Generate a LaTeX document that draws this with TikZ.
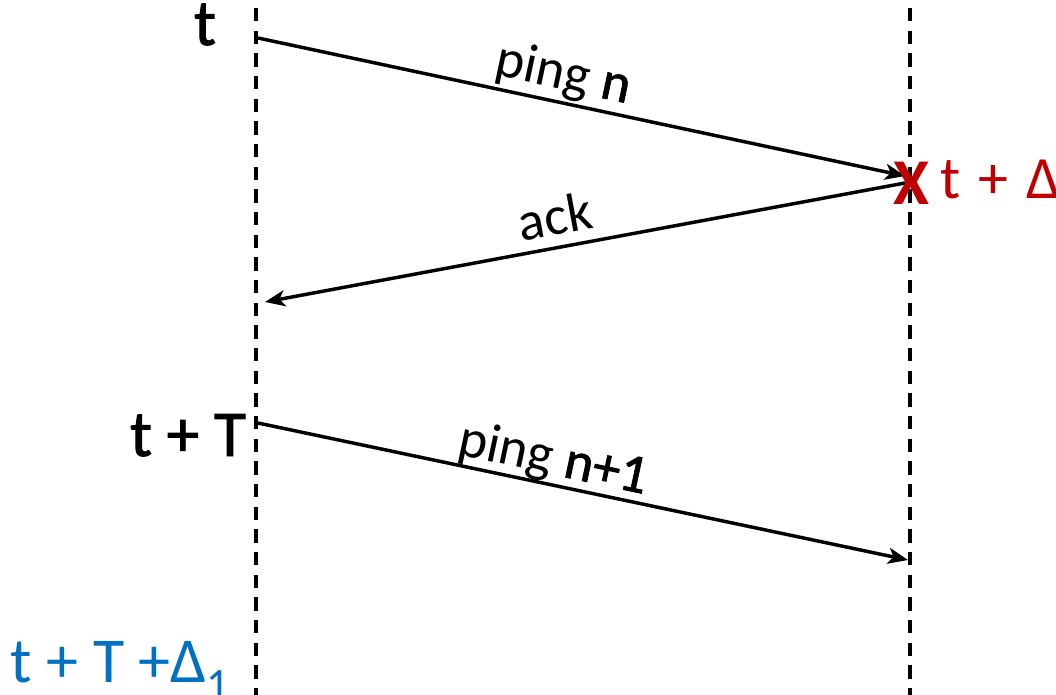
\documentclass[tikz,border=0pt]{standalone}
\usepackage{fontspec}
\setmainfont{Carlito}
\newfontfamily\semibold[FakeBold=1.5]{Carlito}
\usetikzlibrary{arrows.meta}
\definecolor{xred}{RGB}{192,0,0}
\definecolor{xblue}{RGB}{0,112,192}
\begin{document}
\begin{tikzpicture}[x=0.75pt,y=-0.75pt]
\tikzset{ >={Stealth[length=15pt,width=12pt,inset=4pt]}, inner sep=0pt, outer sep=0pt,
  lifeline/.style={line width=2.6pt, dash pattern=on 10pt off 7pt},
  msg/.style={line width=2.6pt, ->},
  lbl/.style={font=\fontsize{41}{41}\selectfont},
  tlbl/.style={font=\fontsize{49}{49}\selectfont\semibold, anchor=base},
}

\useasboundingbox (0,0) rectangle (1056,695);

%%% Linhas verticais

% cliente
\coordinate (A0) at (256,8);
\coordinate (A1) at (256,695);
\draw [lifeline] (A0) -- (A1);

% servidor
\coordinate (B0) at (910,8);
\coordinate (B1) at (910,695);
\draw [lifeline] (B0) -- (B1);

%%% Tempos

\node [tlbl] (t0) at (205,45) {t};
\node [tlbl] (tT) at (188,456) {t + T};
\node [font=\fontsize{48}{48}\selectfont, anchor=base west, text=xblue] (tTD) at (11,682) {t + T +Δ\textsubscript{1}};

%%% Mensagens

% ping n
\coordinate (P0s) at (258,38);
\coordinate (P0e) at (905,176);
\draw [msg] (P0s) -- (P0e);
\node [lbl, anchor=base, rotate=-12] (ping0) at (560,89) {ping {\semibold n}};

% ack
\coordinate (ACKs) at (905,183);
\coordinate (ACKe) at (265,302);
\draw [msg] (ACKs) -- (ACKe);
\node [lbl, anchor=base, rotate=10.5] (ack) at (558,235) {ack};

% ping n+1
\coordinate (P1s) at (258,423);
\coordinate (P1e) at (908,560);
\draw [msg] (P1s) -- (P1e);
\node [lbl, anchor=base, rotate=-12] (ping1) at (550,474) {ping {\semibold n+1}};

% perda
\node [font=\fontsize{49}{49}\selectfont\bfseries, anchor=base, text=xred] (X) at (911,205) {X};
\node [font=\fontsize{45}{45}\selectfont, anchor=base west, text=xred] (tD) at (940,199) {t\hspace{0.08em} + \hspace{0.08em}Δ};

\end{tikzpicture}
\end{document}
